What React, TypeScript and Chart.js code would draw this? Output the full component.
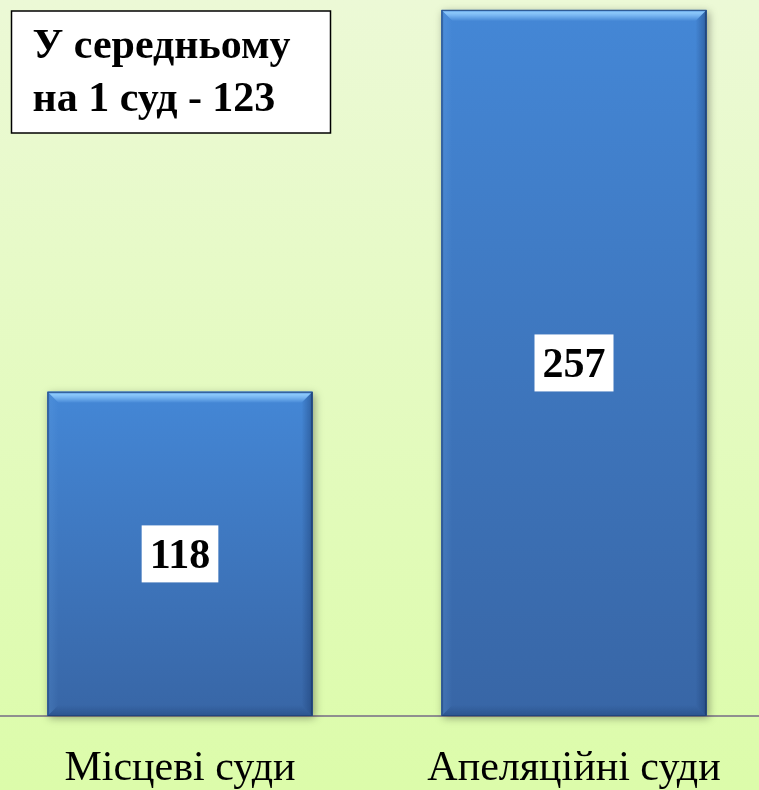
import { useEffect, useRef } from "react";
import { Chart, registerables } from "chart.js";

Chart.register(...registerables);

const categories = ["Місцеві суди", "Апеляційні суди"];
const values = [118, 257];
const noteLines = ["У середньому", "на 1 суд - 123"];

const OFFSET_X = 17.5;
const CANVAS_W = 788;
const CANVAS_H = 816;
const SERIF = '"Liberation Serif", "Times New Roman", serif';

export default function App() {
  const ref = useRef<HTMLCanvasElement>(null);

  useEffect(() => {
    document.body.style.margin = "0";
    const canvas = ref.current;
    if (!canvas) return;

    const bgPlugin = {
      id: "bgPlugin",
      beforeDraw(chart: any) {
        const { ctx, width } = chart;
        const g = ctx.createLinearGradient(0, 0, 0, 790);
        g.addColorStop(0, "#ecf9d6");
        g.addColorStop(1, "#dcfcaa");
        ctx.save();
        ctx.fillStyle = g;
        ctx.fillRect(0, 0, width, chart.height);
        ctx.restore();
      },
    };

    const barFx = {
      id: "barFx",
      beforeDatasetsDraw(chart: any) {
        const { ctx } = chart;
        const meta = chart.getDatasetMeta(0);
        ctx.save();
        meta.data.forEach((el: any) => {
          const L = el.x - el.width / 2;
          const R = el.x + el.width / 2;
          const T = el.y;
          const B = el.base;
          ctx.shadowColor = "rgba(0,0,0,0.35)";
          ctx.shadowBlur = 8;
          ctx.shadowOffsetX = 2;
          ctx.shadowOffsetY = 2;
          ctx.fillStyle = "#3a6aa8";
          ctx.fillRect(L, T, R - L, B - T);
        });
        ctx.restore();
      },
      afterDatasetsDraw(chart: any) {
        const { ctx } = chart;
        const meta = chart.getDatasetMeta(0);
        meta.data.forEach((el: any, i: number) => {
          const L = el.x - el.width / 2;
          const R = el.x + el.width / 2;
          const T = el.y;
          const B = el.base;
          const b = 11;
          ctx.save();
          const body = ctx.createLinearGradient(0, T, 0, B);
          body.addColorStop(0, "#4487d6");
          body.addColorStop(1, "#3866a6");
          ctx.fillStyle = body;
          ctx.fillRect(L, T, R - L, B - T);
          // top bevel
          const tg = ctx.createLinearGradient(0, T, 0, T + b);
          tg.addColorStop(0, "#4f8fda");
          tg.addColorStop(0.25, "#8cc8fa");
          tg.addColorStop(0.5, "#78b6f2");
          tg.addColorStop(1, "#4688d6");
          ctx.fillStyle = tg;
          ctx.beginPath();
          ctx.moveTo(L, T);
          ctx.lineTo(R, T);
          ctx.lineTo(R - b, T + b);
          ctx.lineTo(L + b, T + b);
          ctx.closePath();
          ctx.fill();
          // left bevel
          const lg = ctx.createLinearGradient(L, 0, L + b, 0);
          lg.addColorStop(0, "rgba(30,70,130,0.35)");
          lg.addColorStop(0.3, "rgba(120,180,240,0.12)");
          lg.addColorStop(1, "rgba(120,180,240,0)");
          ctx.fillStyle = lg;
          ctx.beginPath();
          ctx.moveTo(L, T);
          ctx.lineTo(L + b, T + b);
          ctx.lineTo(L + b, B - b);
          ctx.lineTo(L, B);
          ctx.closePath();
          ctx.fill();
          // right bevel
          const rg = ctx.createLinearGradient(R - b, 0, R, 0);
          rg.addColorStop(0, "rgba(20,50,100,0)");
          rg.addColorStop(0.8, "rgba(20,50,100,0.35)");
          rg.addColorStop(1, "rgba(15,35,75,0.85)");
          ctx.fillStyle = rg;
          ctx.beginPath();
          ctx.moveTo(R, T);
          ctx.lineTo(R, B);
          ctx.lineTo(R - b, B - b);
          ctx.lineTo(R - b, T + b);
          ctx.closePath();
          ctx.fill();
          // bottom bevel
          const bg = ctx.createLinearGradient(0, B - b, 0, B);
          bg.addColorStop(0, "rgba(20,50,100,0)");
          bg.addColorStop(1, "rgba(20,50,100,0.35)");
          ctx.fillStyle = bg;
          ctx.beginPath();
          ctx.moveTo(L, B);
          ctx.lineTo(R, B);
          ctx.lineTo(R - b, B - b);
          ctx.lineTo(L + b, B - b);
          ctx.closePath();
          ctx.fill();
          ctx.strokeStyle = "rgba(30,65,120,0.8)";
          ctx.lineWidth = 1;
          ctx.strokeRect(L + 0.5, T + 0.5, R - L - 1, B - T - 1);
          ctx.restore();

          // value label
          const text = String(values[i]);
          ctx.save();
          ctx.font = `bold 42px ${SERIF}`;
          const w = ctx.measureText(text).width;
          const bw = w + 16;
          const bh = 57;
          const cy = (T + B) / 2;
          ctx.fillStyle = "#ffffff";
          ctx.fillRect(el.x - bw / 2, cy - bh / 2, bw, bh);
          ctx.fillStyle = "#000000";
          ctx.textAlign = "center";
          ctx.textBaseline = "alphabetic";
          ctx.fillText(text, el.x, cy + 14.5);
          ctx.restore();
        });
      },
      afterDraw(chart: any) {
        const { ctx } = chart;
        ctx.save();
        const x0 = OFFSET_X + 11;
        const y0 = 11;
        const w = 319;
        const h = 122;
        ctx.fillStyle = "#ffffff";
        ctx.fillRect(x0, y0, w, h);
        ctx.strokeStyle = "#000000";
        ctx.lineWidth = 1.5;
        ctx.strokeRect(x0, y0, w, h);
        ctx.fillStyle = "#000000";
        ctx.font = `bold 42px ${SERIF}`;
        ctx.textAlign = "left";
        ctx.textBaseline = "alphabetic";
        ctx.fillText(noteLines[0], OFFSET_X + 32, 58);
        ctx.fillText(noteLines[1], OFFSET_X + 32, 111);
        ctx.restore();
      },
    };

    const chart = new Chart(canvas, {
      type: "bar",
      data: {
        labels: categories,
        datasets: [
          {
            data: values,
            backgroundColor: "#4080cc",
            borderWidth: 0,
            barPercentage: 0.6726,
            categoryPercentage: 1,
          },
        ],
      },
      options: {
        responsive: false,
        animation: false,
        layout: { padding: { top: 0, left: 0, right: 0, bottom: 2 } },
        plugins: {
          legend: { display: false },
          tooltip: { enabled: false },
        },
        scales: {
          x: {
            offset: true,
            grid: { display: false },
            border: { display: true, color: "#8f8f8f", width: 2 },
            ticks: {
              color: "#000000",
              padding: 24,
              font: { family: SERIF, size: 42, lineHeight: 1 },
              maxRotation: 0,
              autoSkip: false,
            },
          },
          y: {
            display: false,
            min: 0,
            max: 260.6,
          },
        },
      },
      plugins: [bgPlugin, barFx],
    });

    return () => {
      chart.destroy();
    };
  }, []);

  return (
    <div
      style={{
        position: "fixed",
        left: 0,
        top: 0,
        width: 759,
        height: 790,
        overflow: "hidden",
      }}
    >
      <canvas
        ref={ref}
        width={CANVAS_W}
        height={CANVAS_H}
        style={{ position: "absolute", left: -OFFSET_X, top: 0, width: CANVAS_W, height: CANVAS_H }}
      />
    </div>
  );
}
